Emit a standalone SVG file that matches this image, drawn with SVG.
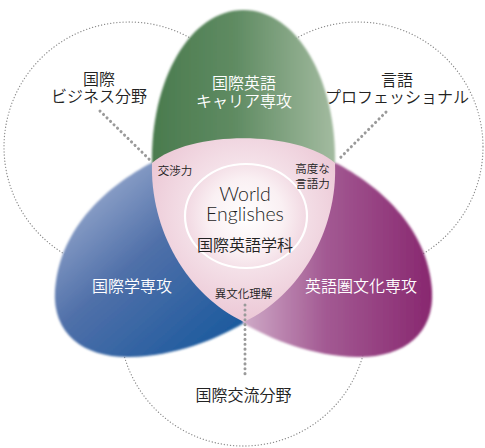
<svg xmlns="http://www.w3.org/2000/svg" width="485" height="448" viewBox="0 0 485 448">
<defs>
  <linearGradient id="gGreen" x1="0" y1="0" x2="1" y2="0">
    <stop offset="0" stop-color="#4a7b4e"/>
    <stop offset="0.45" stop-color="#5f8b62"/>
    <stop offset="1" stop-color="#a3bba0"/>
  </linearGradient>
  <linearGradient id="gBlue" x1="0.1" y1="0.1" x2="0.85" y2="0.95">
    <stop offset="0" stop-color="#9cadd0"/>
    <stop offset="0.45" stop-color="#5070a9"/>
    <stop offset="1" stop-color="#1b5a9e"/>
  </linearGradient>
  <linearGradient id="gPurple" x1="0" y1="0" x2="1" y2="0">
    <stop offset="0" stop-color="#d2b0cb"/>
    <stop offset="0.45" stop-color="#a35a93"/>
    <stop offset="1" stop-color="#88276f"/>
  </linearGradient>
  <radialGradient id="gPink" cx="245" cy="215" r="110" gradientUnits="userSpaceOnUse">
    <stop offset="0" stop-color="#ffffff"/>
    <stop offset="0.45" stop-color="#f5e3ea"/>
    <stop offset="1" stop-color="#ebc6d4"/>
  </radialGradient>
  <radialGradient id="gCore" cx="246" cy="216" r="62" gradientUnits="userSpaceOnUse">
    <stop offset="0" stop-color="#ffffff"/>
    <stop offset="0.6" stop-color="#faf0f3"/>
    <stop offset="1" stop-color="#f1d7e1"/>
  </radialGradient>
  <filter id="soft" x="-10%" y="-10%" width="120%" height="120%">
    <feGaussianBlur stdDeviation="0.9"/>
  </filter>
</defs>
<style>
  .field { fill: none; stroke: #8c8c8c; stroke-width: 1.3; stroke-dasharray: 0.1 3; stroke-linecap: round; }
  .lead { fill: none; stroke: #9a9a9a; stroke-width: 3; stroke-dasharray: 0.1 4.8; stroke-linecap: round; }
  .jp { font-family: "Noto Sans CJK JP", "Noto Sans", sans-serif; font-weight: 350; text-anchor: middle; }
  .lbl { font-size: 16px; fill: #222222; }
  .wlbl { font-size: 16px; fill: #ffffff; }
  .small { font-size: 11.5px; fill: #222222; }
  .en { font-family: "Lato", "Liberation Sans", sans-serif; font-weight: 300; font-size: 19.5px; fill: #1e1e1e; text-anchor: middle; }
</style>

<g id="field-business">
  <circle class="field" cx="129" cy="147" r="125"/>
  <text class="jp lbl" x="99" y="85">国際</text>
  <text class="jp lbl" x="99" y="102">ビジネス分野</text>
</g>
<g id="field-language">
  <circle class="field" cx="358" cy="147" r="125"/>
  <text class="jp lbl" x="397" y="86">言語</text>
  <text class="jp lbl" x="397" y="103">プロフェッショナル</text>
</g>
<g id="field-exchange">
  <circle class="field" cx="243.5" cy="322" r="124"/>
  <text class="jp lbl" x="243.5" y="401">国際交流分野</text>
</g>

<g id="major-career">
  <path d="M152,166 C150,80 190,10 243.5,10 C297,10 337,80 335,166 Z" fill="url(#gGreen)" filter="url(#soft)"/>
  <text class="jp wlbl" x="244" y="89">国際英語</text>
  <text class="jp wlbl" x="244" y="107">キャリア専攻</text>
</g>
<g id="major-international">
  <path d="M151,163 C110,185 60,225 55,290 C52,335 85,358 130,357 C175,356 215,340 244,323 L250,200 Z" fill="url(#gBlue)" filter="url(#soft)"/>
  <text class="jp wlbl" x="132" y="292">国際学専攻</text>
</g>
<g id="major-culture">
  <path d="M336,163 C377,185 427,225 432,290 C435,335 402,358 357,357 C312,356 272,340 243,323 L237,200 Z" fill="url(#gPurple)" filter="url(#soft)"/>
  <text class="jp wlbl" x="361" y="292">英語圏文化専攻</text>
</g>

<g id="department">
  <path d="M152,163 C190,130 297,130 335,163 C338,230 300,295 244,322 C187,295 150,230 152,163 Z" fill="url(#gPink)"/>
  <ellipse cx="246" cy="216" rx="61" ry="52" fill="url(#gCore)" stroke="#ffffff" stroke-width="2.2"/>
  <text class="en" x="245" y="201">World</text>
  <text class="en" x="245" y="221">Englishes</text>
  <text class="jp lbl" x="245" y="251">国際英語学科</text>
  <text class="jp small" x="175" y="175">交渉力</text>
  <text class="jp small" x="312.5" y="173">高度な</text>
  <text class="jp small" x="312.5" y="188">言語力</text>
  <text class="jp small" x="243.5" y="298">異文化理解</text>
</g>

<g id="connectors">
  <line class="lead" x1="100" y1="111" x2="150" y2="160"/>
  <line class="lead" x1="386" y1="112" x2="338" y2="160"/>
  <line class="lead" x1="245" y1="305" x2="245" y2="375"/>
</g>
</svg>
